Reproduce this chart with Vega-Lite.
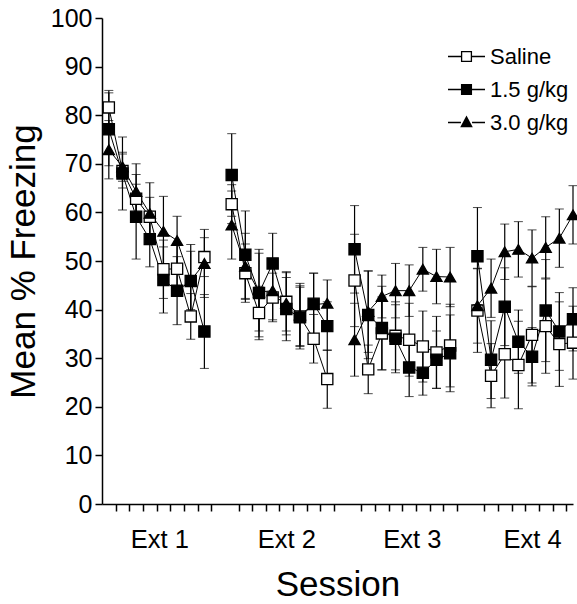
{
  "$schema": "https://vega.github.io/schema/vega-lite/v6.json",
  "autosize": "none",
  "padding": {"left": 102, "top": 18, "right": 4, "bottom": 100},
  "width": 471,
  "height": 486,
  "background": "white",
  "config": {
    "view": {"stroke": null},
    "font": "Liberation Sans",
    "axis": {"domainColor": "black", "tickColor": "black", "labelColor": "black", "titleColor": "black", "domainWidth": 1.5, "tickWidth": 1.5, "grid": false, "labelFont": "Liberation Sans", "titleFont": "Liberation Sans", "titleFontWeight": "normal"},
    "legend": {
      "orient": "none", "legendX": 346, "legendY": 20,
      "labelFontSize": 22, "labelFont": "Liberation Sans", "labelColor": "black",
      "symbolSize": 1369, "labelOffset": 5, "rowPadding": 3,
      "symbolStrokeWidth": 0, "symbolFillColor": "black", "symbolOpacity": 1
    }
  },
  "resolve": {"scale": {"shape": "independent"}},
  "data": {"values": [
    {"g": "Saline", "s": 1, "x": 0.5, "m": 81.6, "e": 3.5},
    {"g": "Saline", "s": 1, "x": 1.5, "m": 68.5, "e": 3.5},
    {"g": "Saline", "s": 1, "x": 2.5, "m": 62.8, "e": 3},
    {"g": "Saline", "s": 1, "x": 3.5, "m": 59.1, "e": 4},
    {"g": "Saline", "s": 1, "x": 4.5, "m": 48.3, "e": 6},
    {"g": "Saline", "s": 1, "x": 5.5, "m": 48.4, "e": 5},
    {"g": "Saline", "s": 1, "x": 6.5, "m": 38.6, "e": 4.7},
    {"g": "Saline", "s": 1, "x": 7.5, "m": 50.8, "e": 4},
    {"g": "1.5 g/kg", "s": 1, "x": 0.5, "m": 77.1, "e": 7.5},
    {"g": "1.5 g/kg", "s": 1, "x": 1.5, "m": 68.0, "e": 7.5},
    {"g": "1.5 g/kg", "s": 1, "x": 2.5, "m": 59.1, "e": 8.7},
    {"g": "1.5 g/kg", "s": 1, "x": 3.5, "m": 54.5, "e": 5.7},
    {"g": "1.5 g/kg", "s": 1, "x": 4.5, "m": 46.1, "e": 6.8},
    {"g": "1.5 g/kg", "s": 1, "x": 5.5, "m": 43.9, "e": 7},
    {"g": "1.5 g/kg", "s": 1, "x": 6.5, "m": 45.9, "e": 7.5},
    {"g": "1.5 g/kg", "s": 1, "x": 7.5, "m": 35.5, "e": 7.6},
    {"g": "3.0 g/kg", "s": 1, "x": 0.5, "m": 72.9, "e": 6},
    {"g": "3.0 g/kg", "s": 1, "x": 1.5, "m": 69.4, "e": 3},
    {"g": "3.0 g/kg", "s": 1, "x": 2.5, "m": 64.3, "e": 5.7},
    {"g": "3.0 g/kg", "s": 1, "x": 3.5, "m": 59.8, "e": 6.3},
    {"g": "3.0 g/kg", "s": 1, "x": 4.5, "m": 56.1, "e": 7.2},
    {"g": "3.0 g/kg", "s": 1, "x": 5.5, "m": 54.2, "e": 5},
    {"g": "3.0 g/kg", "s": 1, "x": 6.5, "m": 46.0, "e": 6},
    {"g": "3.0 g/kg", "s": 1, "x": 7.5, "m": 49.5, "e": 7},

    {"g": "Saline", "s": 2, "x": 9.5, "m": 61.7, "e": 4},
    {"g": "Saline", "s": 2, "x": 10.5, "m": 47.5, "e": 6},
    {"g": "Saline", "s": 2, "x": 11.5, "m": 39.3, "e": 5.5},
    {"g": "Saline", "s": 2, "x": 12.5, "m": 42.5, "e": 5},
    {"g": "Saline", "s": 2, "x": 13.5, "m": 41.6, "e": 6},
    {"g": "Saline", "s": 2, "x": 14.5, "m": 38.6, "e": 6},
    {"g": "Saline", "s": 2, "x": 15.5, "m": 34.0, "e": 5},
    {"g": "Saline", "s": 2, "x": 16.5, "m": 25.7, "e": 6},
    {"g": "1.5 g/kg", "s": 2, "x": 9.5, "m": 67.7, "e": 8.5},
    {"g": "1.5 g/kg", "s": 2, "x": 10.5, "m": 51.3, "e": 9},
    {"g": "1.5 g/kg", "s": 2, "x": 11.5, "m": 43.4, "e": 9},
    {"g": "1.5 g/kg", "s": 2, "x": 12.5, "m": 49.5, "e": 6.2},
    {"g": "1.5 g/kg", "s": 2, "x": 13.5, "m": 40.1, "e": 6.5},
    {"g": "1.5 g/kg", "s": 2, "x": 14.5, "m": 38.4, "e": 6.5},
    {"g": "1.5 g/kg", "s": 2, "x": 15.5, "m": 41.2, "e": 6.3},
    {"g": "1.5 g/kg", "s": 2, "x": 16.5, "m": 36.6, "e": 5},
    {"g": "3.0 g/kg", "s": 2, "x": 9.5, "m": 57.4, "e": 7},
    {"g": "3.0 g/kg", "s": 2, "x": 10.5, "m": 48.9, "e": 6.8},
    {"g": "3.0 g/kg", "s": 2, "x": 11.5, "m": 43.6, "e": 8},
    {"g": "3.0 g/kg", "s": 2, "x": 12.5, "m": 43.9, "e": 6},
    {"g": "3.0 g/kg", "s": 2, "x": 13.5, "m": 41.3, "e": 6.5},
    {"g": "3.0 g/kg", "s": 2, "x": 14.5, "m": 38.9, "e": 6.5},
    {"g": "3.0 g/kg", "s": 2, "x": 15.5, "m": 41.0, "e": 6.5},
    {"g": "3.0 g/kg", "s": 2, "x": 16.5, "m": 41.3, "e": 4.8},

    {"g": "Saline", "s": 3, "x": 18.5, "m": 46.0, "e": 9.5},
    {"g": "Saline", "s": 3, "x": 19.5, "m": 27.7, "e": 5},
    {"g": "Saline", "s": 3, "x": 20.5, "m": 35.1, "e": 7.5},
    {"g": "Saline", "s": 3, "x": 21.5, "m": 34.6, "e": 7},
    {"g": "Saline", "s": 3, "x": 22.5, "m": 33.8, "e": 7.5},
    {"g": "Saline", "s": 3, "x": 23.5, "m": 32.4, "e": 7.3},
    {"g": "Saline", "s": 3, "x": 24.5, "m": 31.2, "e": 7.4},
    {"g": "Saline", "s": 3, "x": 25.5, "m": 32.6, "e": 8.5},
    {"g": "1.5 g/kg", "s": 3, "x": 18.5, "m": 52.4, "e": 9},
    {"g": "1.5 g/kg", "s": 3, "x": 19.5, "m": 38.9, "e": 9},
    {"g": "1.5 g/kg", "s": 3, "x": 20.5, "m": 36.2, "e": 8.6},
    {"g": "1.5 g/kg", "s": 3, "x": 21.5, "m": 34.0, "e": 7},
    {"g": "1.5 g/kg", "s": 3, "x": 22.5, "m": 28.1, "e": 6},
    {"g": "1.5 g/kg", "s": 3, "x": 23.5, "m": 27.0, "e": 4.6},
    {"g": "1.5 g/kg", "s": 3, "x": 24.5, "m": 29.7, "e": 5.9},
    {"g": "1.5 g/kg", "s": 3, "x": 25.5, "m": 31.0, "e": 7.9},
    {"g": "3.0 g/kg", "s": 3, "x": 18.5, "m": 33.8, "e": 7.5},
    {"g": "3.0 g/kg", "s": 3, "x": 19.5, "m": 39.6, "e": 8.4},
    {"g": "3.0 g/kg", "s": 3, "x": 20.5, "m": 42.7, "e": 4.4},
    {"g": "3.0 g/kg", "s": 3, "x": 21.5, "m": 43.9, "e": 5.6},
    {"g": "3.0 g/kg", "s": 3, "x": 22.5, "m": 43.9, "e": 5.3},
    {"g": "3.0 g/kg", "s": 3, "x": 23.5, "m": 48.3, "e": 4.5},
    {"g": "3.0 g/kg", "s": 3, "x": 24.5, "m": 46.8, "e": 5.6},
    {"g": "3.0 g/kg", "s": 3, "x": 25.5, "m": 46.7, "e": 6.1},

    {"g": "Saline", "s": 4, "x": 27.5, "m": 39.8, "e": 8.6},
    {"g": "Saline", "s": 4, "x": 28.5, "m": 26.4, "e": 6.6},
    {"g": "Saline", "s": 4, "x": 29.5, "m": 30.8, "e": 9},
    {"g": "Saline", "s": 4, "x": 30.5, "m": 28.6, "e": 9},
    {"g": "Saline", "s": 4, "x": 31.5, "m": 34.8, "e": 9.9},
    {"g": "Saline", "s": 4, "x": 32.5, "m": 36.6, "e": 9.7},
    {"g": "Saline", "s": 4, "x": 33.5, "m": 32.9, "e": 8.7},
    {"g": "Saline", "s": 4, "x": 34.5, "m": 33.2, "e": 7.5},
    {"g": "1.5 g/kg", "s": 4, "x": 27.5, "m": 51.0, "e": 10},
    {"g": "1.5 g/kg", "s": 4, "x": 28.5, "m": 29.7, "e": 8},
    {"g": "1.5 g/kg", "s": 4, "x": 29.5, "m": 40.6, "e": 8},
    {"g": "1.5 g/kg", "s": 4, "x": 30.5, "m": 33.4, "e": 6.5},
    {"g": "1.5 g/kg", "s": 4, "x": 31.5, "m": 30.3, "e": 6},
    {"g": "1.5 g/kg", "s": 4, "x": 32.5, "m": 39.8, "e": 10.5},
    {"g": "1.5 g/kg", "s": 4, "x": 33.5, "m": 35.5, "e": 8},
    {"g": "1.5 g/kg", "s": 4, "x": 34.5, "m": 38.0, "e": 6.5},
    {"g": "3.0 g/kg", "s": 4, "x": 27.5, "m": 40.8, "e": 7.7},
    {"g": "3.0 g/kg", "s": 4, "x": 28.5, "m": 44.4, "e": 6},
    {"g": "3.0 g/kg", "s": 4, "x": 29.5, "m": 51.9, "e": 5.7},
    {"g": "3.0 g/kg", "s": 4, "x": 30.5, "m": 52.4, "e": 5.7},
    {"g": "3.0 g/kg", "s": 4, "x": 31.5, "m": 50.6, "e": 5.8},
    {"g": "3.0 g/kg", "s": 4, "x": 32.5, "m": 52.8, "e": 6.3},
    {"g": "3.0 g/kg", "s": 4, "x": 33.5, "m": 54.7, "e": 6},
    {"g": "3.0 g/kg", "s": 4, "x": 34.5, "m": 59.5, "e": 6}
  ]},
  "encoding": {
    "x": {
      "field": "x", "type": "quantitative",
      "scale": {"domain": [0, 34.5], "nice": false, "zero": false},
      "axis": {
        "title": "Session", "titleFontSize": 35, "titlePadding": 15,
        "values": [1,2,3,4,5,6,7,8,10,11,12,13,14,15,16,17,19,20,21,22,23,24,25,26,28,29,30,31,32,33,34,4.2,13.5,22.7,31.5],
        "labelExpr": "datum.value == 4.2 ? 'Ext 1' : datum.value == 13.5 ? 'Ext 2' : datum.value == 22.7 ? 'Ext 3' : datum.value == 31.5 ? 'Ext 4' : ''",
        "tickOpacity": {"condition": {"test": "datum.value == 4.2 || datum.value == 13.5 || datum.value == 22.7 || datum.value == 31.5", "value": 0}, "value": 1},
        "tickSize": 7, "labelFontSize": 25.5, "labelPadding": 16,
        "labelOverlap": false, "labelFlush": false, "labelBound": false
      }
    },
    "y": {
      "field": "m", "type": "quantitative",
      "scale": {"domain": [0, 100], "nice": false},
      "axis": {
        "title": "Mean % Freezing", "titleFontSize": 35, "titlePadding": 9,
        "values": [0,10,20,30,40,50,60,70,80,90,100],
        "tickSize": 7, "labelFontSize": 25, "labelPadding": 3
      }
    }
  },
  "layer": [
    {
      "mark": {"type": "errorbar", "color": "black", "rule": {"strokeWidth": 1.2}, "ticks": {"size": 9, "strokeWidth": 1.2, "color": "black"}},
      "encoding": {"yError": {"field": "e"}, "detail": {"field": "g"}}
    },
    {
      "mark": {"type": "line", "color": "black", "strokeWidth": 1},
      "encoding": {"detail": [{"field": "g"}, {"field": "s"}]}
    },
    {
      "mark": {"type": "point", "size": 125, "stroke": "black", "strokeWidth": 1.3, "opacity": 1, "filled": false},
      "encoding": {
        "shape": {
          "field": "g", "type": "nominal",
          "scale": {"domain": ["Saline", "1.5 g/kg", "3.0 g/kg"], "range": ["square", "square", "triangle-up"]},
          "legend": null
        },
        "fill": {
          "field": "g", "type": "nominal",
          "scale": {"domain": ["Saline", "1.5 g/kg", "3.0 g/kg"], "range": ["white", "black", "black"]},
          "legend": null
        }
      }
    },
    {
      "transform": [{"filter": "false"}],
      "mark": {"type": "point", "filled": true, "color": "black", "strokeWidth": 0, "size": 1369, "opacity": 1},
      "encoding": {
        "shape": {
          "field": "g", "type": "nominal",
          "scale": {
            "domain": ["Saline", "1.5 g/kg", "3.0 g/kg"],
            "range": [
              "M-1,-0.035H-0.3V0.035H-1Z M0.3,-0.035H1V0.035H0.3Z M-0.3,-0.3H0.3V0.3H-0.3Z M-0.23,-0.23V0.23H0.23V-0.23Z",
              "M-1,-0.035H-0.3V0.035H-1Z M0.3,-0.035H1V0.035H0.3Z M-0.3,-0.3H0.3V0.3H-0.3Z",
              "M-1,-0.035H-0.3V0.035H-1Z M0.3,-0.035H1V0.035H0.3Z M0,-0.38L0.34,0.26H-0.34Z"
            ]
          },
          "legend": {"title": null}
        }
      }
    }
  ]
}
